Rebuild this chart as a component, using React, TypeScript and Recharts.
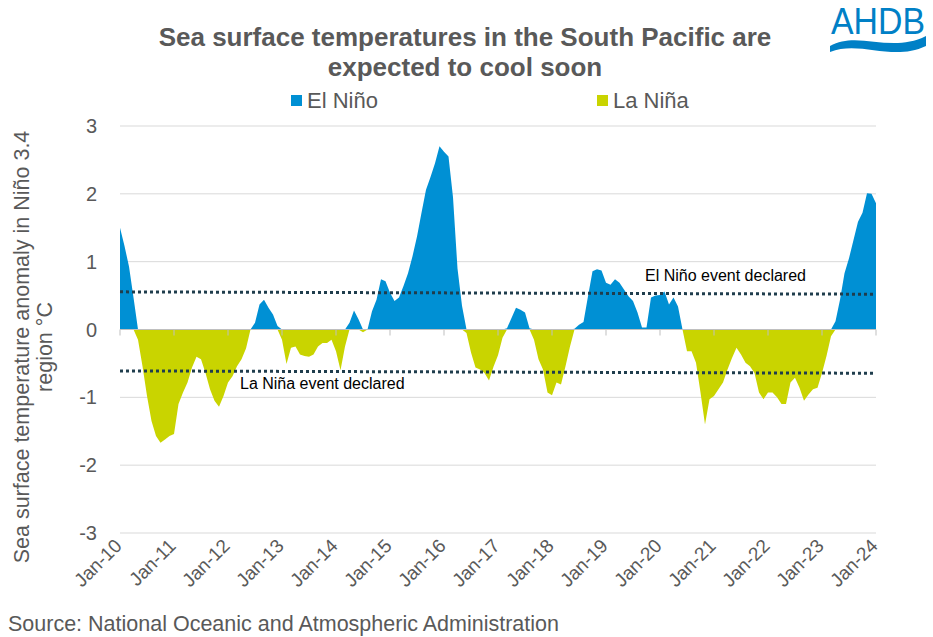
import { AreaChart, Area, XAxis, YAxis, CartesianGrid, ReferenceLine } from 'recharts';

// Niño 3.4 sea surface temperature anomaly (°C), monthly
const y2010 = [1.5, 1.23, 0.93, 0.47, -0.15, -0.54, -0.98, -1.35, -1.57, -1.67, -1.62, -1.57];
const y2011 = [-1.54, -1.1, -0.93, -0.78, -0.56, -0.4, -0.44, -0.64, -0.88, -1.05, -1.14, -0.98];
const y2012 = [-0.78, -0.69, -0.54, -0.44, -0.28, 0.0, 0.1, 0.37, 0.44, 0.32, 0.22, 0.05];
const y2013 = [-0.15, -0.51, -0.27, -0.25, -0.37, -0.39, -0.4, -0.37, -0.25, -0.2, -0.2, -0.15];
const y2014 = [-0.32, -0.6, -0.25, 0.1, 0.28, 0.15, -0.04, 0.0, 0.27, 0.44, 0.74, 0.71];
const y2015 = [0.54, 0.42, 0.47, 0.64, 0.83, 1.08, 1.37, 1.72, 2.06, 2.25, 2.45, 2.7];
const y2016 = [2.62, 2.55, 1.95, 0.9, 0.35, -0.05, -0.34, -0.56, -0.59, -0.64, -0.75, -0.55];
const y2017 = [-0.38, -0.12, 0.02, 0.17, 0.32, 0.29, 0.25, 0.02, -0.15, -0.44, -0.59, -0.93];
const y2018 = [-0.97, -0.78, -0.81, -0.54, -0.25, 0.01, 0.07, 0.11, 0.49, 0.86, 0.89, 0.87];
const y2019 = [0.69, 0.66, 0.74, 0.69, 0.59, 0.49, 0.42, 0.25, 0.03, 0.03, 0.47, 0.5];
const y2020 = [0.51, 0.56, 0.37, 0.47, 0.34, 0.0, -0.32, -0.32, -0.49, -0.93, -1.4, -1.03];
const y2021 = [-0.98, -0.88, -0.78, -0.59, -0.42, -0.27, -0.37, -0.49, -0.54, -0.64, -0.93, -1.03];
const y2022 = [-0.93, -0.93, -1.0, -1.1, -1.1, -0.78, -0.71, -0.86, -1.05, -0.96, -0.88, -0.86];
const y2023 = [-0.64, -0.39, -0.1, 0.12, 0.44, 0.83, 1.05, 1.32, 1.59, 1.72, 2.01, 2.0];
const y2024 = [1.86];

const monthNames = ['Jan', 'Feb', 'Mar', 'Apr', 'May', 'Jun', 'Jul', 'Aug', 'Sep', 'Oct', 'Nov', 'Dec'];
const yTicks = [-3, -2, -1, 0, 1, 2, 3];

// declared-event thresholds (start, end)
const elNinoLine = [0.555, 0.52];
const laNinaLine = [-0.61, -0.645];

const anomaly = [
  ...y2010, ...y2011, ...y2012, ...y2013, ...y2014, ...y2015, ...y2016,
  ...y2017, ...y2018, ...y2019, ...y2020, ...y2021, ...y2022, ...y2023, ...y2024,
];

const data = anomaly.map((v, i) => ({
  label: `${monthNames[i % 12]}-${10 + Math.floor(i / 12)}`,
  elNino: v >= 0 ? v : 0,
  laNina: v < 0 ? v : 0,
}));

const FONT = '"Liberation Sans", Arial, sans-serif';
const GREY = '#595959';
const BLUE = '#0090D4';
const LIME = '#C9D400';
const DOTS = '#1F3D4D';

const PLOT_TOP = 126;
const PLOT_BOTTOM = 533;
const ZERO_Y = (PLOT_TOP + PLOT_BOTTOM) / 2;

function MonthTick({ x, y, payload }: any) {
  const tx = x + 3;
  const ty = y + 6;
  return (
    <g>
      <line x1={x} x2={x} y1={ZERO_Y} y2={ZERO_Y + 6} stroke="#BFBFBF" />
      <text
        x={tx}
        y={ty}
        transform={`rotate(-45 ${tx} ${ty})`}
        textAnchor="end"
        fontSize={19}
        fontFamily={FONT}
        fill={GREY}
      >
        {payload.value}
      </text>
    </g>
  );
}

export default function App() {
  const first = data[0].label;
  const last = data[data.length - 1].label;

  return (
    <div style={{ position: 'absolute', left: 0, top: 0, width: 933, height: 637, background: '#fff', fontFamily: FONT }}>
      <AreaChart width={933} height={637} data={data} margin={{ top: PLOT_TOP, right: 57, left: 0, bottom: 0 }}>
        <CartesianGrid vertical={false} stroke="#D9D9D9" />
        <XAxis
          dataKey="label"
          interval={11}
          height={637 - PLOT_BOTTOM}
          axisLine={false}
          tickLine={false}
          tick={<MonthTick />}
        />
        <YAxis
          domain={[-3, 3]}
          ticks={yTicks}
          width={120}
          axisLine={false}
          tickLine={false}
          tickMargin={17}
          tick={{ fontSize: 20, fill: GREY, fontFamily: FONT }}
        />
        <ReferenceLine y={0} stroke="#BFBFBF" />
        <Area
          type="linear"
          dataKey="elNino"
          name="El Niño"
          stroke="none"
          fill={BLUE}
          fillOpacity={1}
          baseValue={0}
          isAnimationActive={false}
        />
        <Area
          type="linear"
          dataKey="laNina"
          name="La Niña"
          stroke="none"
          fill={LIME}
          fillOpacity={1}
          baseValue={0}
          isAnimationActive={false}
        />
        <ReferenceLine
          segment={[{ x: first, y: elNinoLine[0] }, { x: last, y: elNinoLine[1] }]}
          stroke={DOTS}
          strokeWidth={3}
          strokeDasharray="3 3"
        />
        <ReferenceLine
          segment={[{ x: first, y: laNinaLine[0] }, { x: last, y: laNinaLine[1] }]}
          stroke={DOTS}
          strokeWidth={3}
          strokeDasharray="3 3"
        />
      </AreaChart>

      <svg width={933} height={637} style={{ position: 'absolute', left: 0, top: 0, pointerEvents: 'none' }}>
        <text x={465} y={46} textAnchor="middle" fontSize={26} fontWeight="bold" fill={GREY} fontFamily={FONT}>
          Sea surface temperatures in the South Pacific are
        </text>
        <text x={465} y={76} textAnchor="middle" fontSize={26} fontWeight="bold" fill={GREY} fontFamily={FONT}>
          expected to cool soon
        </text>

        <rect x={291} y={95} width={11} height={11} fill={BLUE} />
        <text x={307} y={108} fontSize={22} fill={GREY} fontFamily={FONT}>El Niño</text>
        <rect x={597} y={95} width={11} height={11} fill={LIME} />
        <text x={613} y={108} fontSize={22} fill={GREY} fontFamily={FONT}>La Niña</text>

        <text transform="translate(29 347) rotate(-90)" textAnchor="middle" fontSize={21.5} fill={GREY} fontFamily={FONT}>
          Sea surface temperature anomaly in Niño 3.4
        </text>
        <text transform="translate(52 347) rotate(-90)" textAnchor="middle" fontSize={21.5} fill={GREY} fontFamily={FONT}>
          region °C
        </text>

        <text x={645} y={281} fontSize={16} fill="#000" fontFamily={FONT}>El Niño event declared</text>
        <text x={240} y={389} fontSize={16} fill="#000" fontFamily={FONT}>La Niña event declared</text>

        <text x={8} y={631} fontSize={21.5} fill={GREY} fontFamily={FONT}>
          Source: National Oceanic and Atmospheric Administration
        </text>

        <text x={878} y={34} textAnchor="middle" fontSize={36} fill="#0080C6" fontFamily={FONT} textLength={94} lengthAdjust="spacingAndGlyphs">
          AHDB
        </text>
        <path d="M830 46 C 858 30, 890 54, 926 36 L 926 46 C 892 62, 860 40, 830 52 Z" fill="#0080C6" />
      </svg>
    </div>
  );
}
